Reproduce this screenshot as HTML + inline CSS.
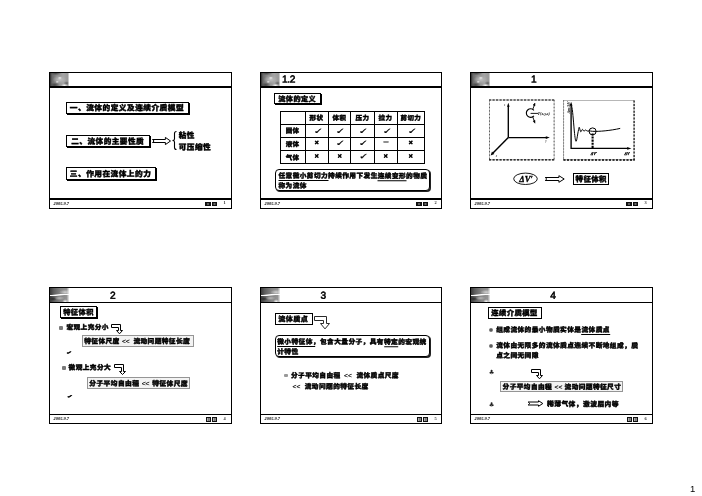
<!DOCTYPE html>
<html lang="zh-CN">
<head>
<meta charset="utf-8">
<title>流体的定义及连续介质模型</title>
<style>
html,body{margin:0;padding:0;background:#fff}
body{width:702px;height:496px;position:relative;overflow:hidden;color:#000;
 font-family:"Liberation Sans","Noto Sans CJK SC",sans-serif;font-weight:900;-webkit-text-stroke:0.42px #000;-webkit-text-size-adjust:none}
.slide{position:absolute;width:183px;height:137px;background:#fff}
.slide>*{position:absolute}
.frame{left:0;top:0;right:0;bottom:0;border:1px solid #000;box-sizing:border-box}
.hl{left:0;right:0;background:#000}
.logo{left:1px;top:1px;width:18.5px;overflow:hidden}
.t{white-space:nowrap;line-height:1;font-size:8px;margin:0;transform-origin:0 0}
.title{transform-origin:0 0;font-weight:normal;font-size:10.2px;-webkit-text-stroke:0.55px #000;line-height:1;white-space:nowrap;margin:0}
.box{box-sizing:border-box;border:1px solid #000;background:#fff;box-shadow:1px 1px 0 #000}
.rbox{box-sizing:border-box;border:1px solid #000;border-radius:4px;background:#fff;box-shadow:1px 1px 0 #222}
.gbox{box-sizing:border-box;border:1px solid #959595;background:#f3f3f3}
.date{font-family:"Liberation Serif",serif;font-style:italic;font-weight:bold;font-size:4.4px;line-height:1;white-space:nowrap;color:#000}
.pn{font-family:"Liberation Serif",serif;font-weight:bold;font-size:4.4px;line-height:1;color:#333}
.btn{background:radial-gradient(ellipse 1.8px 1.1px at 50% 50%,#aaa 0%,#555 60%,#111 100%)}
.b2{background:linear-gradient(90deg,#bbb 0%,#999 45%,#555 55%,#aaa 100%);box-sizing:border-box;border:1px solid #111}
.u{border-bottom:1px solid #000;padding-bottom:1px}
.sq{background:#7a7a7a;border-radius:1px}
.dot{background:radial-gradient(circle at 50% 50%,#4a4a4a 0%,#6a6a6a 45%,#9a9a9a 100%);border-radius:50%}
svg{overflow:visible}
table{border-collapse:collapse}
.pageno{position:absolute;font-weight:normal;font-size:9.5px;line-height:1}
.lt{font-weight:normal;letter-spacing:0}
.club{font-family:"DejaVu Sans",sans-serif;font-size:6.3px;font-weight:normal;color:#222;letter-spacing:0;-webkit-text-stroke:0}
.chk{display:inline-block;font-size:5.5px;letter-spacing:0;font-family:"DejaVu Sans",sans-serif;transform:scale(1.25,.7);-webkit-text-stroke:.6px #000}
.date,.pn,.pageno{-webkit-text-stroke:0}
.lt{-webkit-text-stroke:.15px #000}
main{will-change:transform}

.l1{height:13px;background:linear-gradient(90deg,rgba(255,255,255,0) 92%,rgba(255,255,255,.7) 100%),radial-gradient(ellipse 2.2px 1.2px at 52% 38%,rgba(250,250,250,.95) 0%,rgba(230,230,230,0) 100%),radial-gradient(ellipse 1.8px 1.2px at 38% 68%,rgba(240,240,240,.9) 0%,rgba(230,230,230,0) 100%),radial-gradient(ellipse 7px 4px at 50% 50%,rgba(200,200,200,.9) 0%,rgba(185,185,185,.5) 55%,rgba(160,160,160,0) 100%),radial-gradient(ellipse 3.5px 2px at 76% 98%,rgba(255,255,255,.95) 0%,rgba(220,220,220,0) 100%),radial-gradient(ellipse 3px 2px at 88% 78%,rgba(60,60,60,.6) 0%,rgba(90,90,90,0) 100%),radial-gradient(ellipse 5px 2.5px at 25% 92%,rgba(50,50,50,.75) 0%,rgba(90,90,90,0) 100%),radial-gradient(ellipse 6px 2px at 30% 2%,rgba(50,50,50,.7) 0%,rgba(90,90,90,0) 100%),linear-gradient(90deg,#2c2c2c 0%,#6a6a6a 10%,#909090 40%,#a4a4a4 70%,#969696 100%)}
.l2{height:14px;background:linear-gradient(90deg,rgba(255,255,255,0) 88%,rgba(255,255,255,.8) 100%),linear-gradient(177deg,rgba(0,0,0,0) 44%,#fff 47%,#fff 52%,rgba(0,0,0,0) 55%),radial-gradient(ellipse 3px 2.5px at 80% 98%,rgba(255,255,255,.95) 0%,rgba(220,220,220,0) 100%),radial-gradient(ellipse 5px 2px at 50% 72%,rgba(200,200,200,.8) 0%,rgba(200,200,200,0) 100%),radial-gradient(ellipse 4px 2px at 15% 78%,rgba(30,30,30,.8) 0%,rgba(60,60,60,0) 100%),radial-gradient(ellipse 6px 2.5px at 80% 30%,rgba(215,215,215,.9) 0%,rgba(200,200,200,0) 100%),linear-gradient(90deg,#3a3a3a 0%,#5e5e5e 20%,#858585 55%,#9a9a9a 100%)}
.grid{border:1px solid #000;border-radius:2px;table-layout:fixed;font-size:6.5px;letter-spacing:.4px;line-height:1}
.grid th,.grid td{border:1px solid #000;height:12px;padding:0;text-align:center;vertical-align:middle;font-weight:900;text-indent:.4px}
.grid span{display:inline-block}
.grid tr:first-child th{padding-top:1px;height:11px}
.grid .ck{font-size:8px;font-family:"DejaVu Sans",sans-serif;font-weight:bold;letter-spacing:0;text-indent:0;-webkit-text-stroke:.3px #000}
.grid .x{font-size:6.8px;font-family:"Liberation Sans",sans-serif;letter-spacing:0;text-indent:0;-webkit-text-stroke:.6px #000}
.grid .da{font-size:5px;font-weight:bold;letter-spacing:0;text-indent:0;-webkit-text-stroke:.2px #000}
</style>
</head>
<body>
<main>
<section class="slide" style="left:49px;top:72px;width:183px;height:137px">
<div class="frame"></div>
<div class="logo l1"></div>
<div class="hl" style="top:14px;height:2px"></div>
<div class="hl" style="top:126px;height:2px"></div>

<div class="box" style="left:17px;top:30px;width:122.5px;height:12px"></div>
<p class="t" style="left:20px;top:32px;transform:translate(0.85px,0.45px) rotate(.05deg);font-size:7.68px;letter-spacing:0.49px;">一、流体的定义及连续介质模型</p>
<div class="box" style="left:17px;top:63px;width:83.7px;height:12px"></div>
<p class="t" style="left:22px;top:65px;transform:translate(0.24px,0.90px) rotate(.05deg);font-size:7.61px;letter-spacing:0.49px;">二、流体的主要性质</p>
<svg style="left:101px;top:62px" width="25" height="14" viewBox="101 62 25 14"><path d="M103.50 67.50 H116.40 V65.40 L121.50 69.00 L116.40 72.60 V70.50 H103.50 L105.10 69.00 Z" fill="#fff" stroke="#000" stroke-width="1.0" stroke-linejoin="miter"/></svg>
<svg style="left:123px;top:59px" width="5" height="19" viewBox="0 0 5 19"><path d="M4.5 0.5 Q2.5 0.5 2.5 2.5 V8 Q2.5 9.5 0.5 9.5 Q2.5 9.5 2.5 11 V16.5 Q2.5 18.5 4.5 18.5" fill="none" stroke="#000" stroke-width="1.1"/></svg>
<p class="t" style="left:129px;top:60px;transform:translate(0.74px,0.08px) rotate(.05deg);font-size:7.57px;letter-spacing:0.48px;">粘性</p>
<p class="t" style="left:129px;top:71px;transform:translate(0.74px,0.64px) rotate(.05deg);font-size:7.61px;letter-spacing:0.49px;">可压缩性</p>
<div class="box" style="left:17px;top:95px;width:90px;height:12.5px"></div>
<p class="t" style="left:20px;top:98px;transform:translate(0.84px,0.52px) rotate(.05deg);font-size:7.66px;letter-spacing:0.49px;">三、作用在流体上的力</p>
<span class="date" style="left:4.6px;top:130.2px">2005.9.7</span><span class="btn" style="left:156.3px;top:129.6px;width:5.7px;height:4.3px"></span><span class="btn" style="left:163.1px;top:129.6px;width:4.8px;height:4.3px"></span><span class="pn" style="left:174.6px;top:128.6px">1</span>
</section>

<section class="slide" style="left:260px;top:72px;width:182px;height:137px">
<div class="frame"></div>
<div class="logo l1"></div>
<div class="hl" style="top:14px;height:2px"></div>
<div class="hl" style="top:126px;height:2px"></div>
<h2 class="title" style="left:22px;top:2px;transform:translate(0.00px,0.60px) rotate(.05deg)"><span style="letter-spacing:-.35px">1.2</span></h2>
<div class="box" style="left:14px;top:21px;width:47px;height:10.7px"></div>
<p class="t" style="left:18px;top:24px;transform:translate(0.23px,0.56px) rotate(.05deg);font-size:7.14px;letter-spacing:0.46px;">流体的定义</p>
<table class="grid" style="left:20px;top:39px"><colgroup><col style="width:25px"><col style="width:23px"><col style="width:22px"><col style="width:24px"><col style="width:23px"><col style="width:27px"></colgroup><tr><th></th><th><span style="transform:translate(-0.9px,0.3px) rotate(.05deg)">形状</span></th><th><span style="transform:translate(-0.9px,0.3px) rotate(.05deg)">体积</span></th><th><span style="transform:translate(-0.9px,0.3px) rotate(.05deg)">压力</span></th><th><span style="transform:translate(-0.9px,0.3px) rotate(.05deg)">拉力</span></th><th><span style="transform:translate(-0.9px,0.3px) rotate(.05deg)">剪切力</span></th></tr><tr><th><span style="transform:translate(-0.7px,0.1px) rotate(.05deg)">固体</span></th><td class="ck"><span style="transform:translate(1.1px,0.8px) rotate(.05deg) scale(1.4,1)">✓</span></td><td class="ck"><span style="transform:translate(1.1px,0.8px) rotate(.05deg) scale(1.4,1)">✓</span></td><td class="ck"><span style="transform:translate(1.1px,0.8px) rotate(.05deg) scale(1.4,1)">✓</span></td><td class="ck"><span style="transform:translate(1.1px,0.8px) rotate(.05deg) scale(1.4,1)">✓</span></td><td class="ck"><span style="transform:translate(1.1px,0.8px) rotate(.05deg) scale(1.4,1)">✓</span></td></tr><tr><th><span style="transform:translate(-0.7px,0.5px) rotate(.05deg)">液体</span></th><td class="x"><span style="transform:translate(-0.3px,-1.3px) rotate(.05deg)">×</span></td><td class="ck"><span style="transform:translate(1.2px,-0.2px) rotate(.05deg) scale(1.4,1)">✓</span></td><td class="ck"><span style="transform:translate(1.2px,-0.2px) rotate(.05deg) scale(1.4,1)">✓</span></td><td class="da"><span style="transform:translate(-0.5px,-2.7px) rotate(.05deg)">—</span></td><td class="x"><span style="transform:translate(-0.3px,-1.3px) rotate(.05deg)">×</span></td></tr><tr><th><span style="transform:translate(-0.7px,0.9px) rotate(.05deg)">气体</span></th><td class="x"><span style="transform:translate(-0.3px,-0.7px) rotate(.05deg)">×</span></td><td class="x"><span style="transform:translate(-0.3px,-0.7px) rotate(.05deg)">×</span></td><td class="ck"><span style="transform:translate(1.4px,0.05px) rotate(.05deg) scale(1.4,1)">✓</span></td><td class="x"><span style="transform:translate(-0.3px,-0.7px) rotate(.05deg)">×</span></td><td class="x"><span style="transform:translate(-0.3px,-0.7px) rotate(.05deg)">×</span></td></tr></table>
<div class="rbox" style="left:15px;top:97px;width:155px;height:21.5px"></div>
<p class="t" style="left:18px;top:99px;transform:translate(0.51px,0.04px) rotate(.05deg);font-size:6.67px;letter-spacing:0.43px;line-height:10px;white-space:normal;width:156px"><span class="u">任意微小剪切力</span>持续作用下发生<span class="u">连续变形</span>的物质<br>称为流体</p>
<span class="date" style="left:4.6px;top:130.2px">2005.9.7</span><span class="btn" style="left:156.3px;top:129.6px;width:5.7px;height:4.3px"></span><span class="btn" style="left:163.1px;top:129.6px;width:4.8px;height:4.3px"></span><span class="pn" style="left:174.6px;top:128.6px">2</span>
</section>

<section class="slide" style="left:470px;top:72px;width:183px;height:137px">
<div class="frame"></div>
<div class="logo l1"></div>
<div class="hl" style="top:14px;height:2px"></div>
<div class="hl" style="top:126px;height:2px"></div>
<h2 class="title" style="left:61px;top:2px;transform:translate(0.00px,0.60px) rotate(.05deg)">1</h2>
<svg style="left:18px;top:26px" width="68" height="64" viewBox="488 98 68 64">
<rect x="489.5" y="100" width="64.6" height="59.8" fill="#fff" stroke="#999" stroke-width="0.6"/>
<path d="M489 100 H554.6 M489 159.9 H554.6" fill="none" stroke="#000" stroke-width="1.2" stroke-dasharray="2.2 1.3"/>
<path d="M489.5 100 V160 M554.1 100 V160" fill="none" stroke="#555" stroke-width="0.9" stroke-dasharray="1.4 2"/>
<path d="M508.3 137.6 V106 M508.3 137.6 H546.5" fill="none" stroke="#000" stroke-width="1.35"/>
<path d="M508.3 137.6 L493 153" fill="none" stroke="#000" stroke-width="1.45"/>
<path d="M508.3 102.8 l-1.3 4 h2.6 z M549.8 137.6 l-4 -1.3 v2.6 z M490.6 155.4 l1.4 -3.8 l2.4 2.4 z" fill="#000"/>
<path d="M533.9 110.3 A4.3 4.3 0 1 0 533.9 115.9" fill="none" stroke="#000" stroke-width="1.1"/>
<path d="M530.6 113.4 H538 M532.6 109.8 L534.4 105 M532.6 116.4 L534.4 121.4" fill="none" stroke="#000" stroke-width="0.9"/>
<path d="M535 103 l-1.9 2 l1.9 0.9 z M535 123.2 l-1.9 -2 l1.9 -0.9 z" fill="#000" stroke="#000" stroke-width="0.5"/>
<text x="538" y="114.6" font-family="Liberation Serif,serif" font-style="italic" font-weight="bold" font-size="3.8" fill="#000">P(x,y,z)</text>
<text x="504" y="106" font-family="Liberation Serif,serif" font-style="italic" font-weight="normal" font-size="3.2" fill="#222">z</text>
<text x="545.3" y="142.2" font-family="Liberation Serif,serif" font-style="italic" font-weight="normal" font-size="3.2" fill="#222">y</text>
<text x="495.8" y="156.6" font-family="Liberation Serif,serif" font-style="italic" font-weight="normal" font-size="3.2" fill="#222">x</text>
</svg>
<svg style="left:92px;top:26px" width="74" height="64" viewBox="562 98 74 64">
<rect x="563.6" y="100.5" width="70.4" height="59.3" fill="#fff" stroke="#888" stroke-width="0.6"/>
<path d="M563.6 100.5 V160" fill="none" stroke="#444" stroke-width="0.8" stroke-dasharray="1 2"/>
<path d="M634.1 100.5 V160.4" fill="none" stroke="#111" stroke-width="1.2" stroke-dasharray="2 1.4"/>
<path d="M563.4 160 H634.6" fill="none" stroke="#000" stroke-width="1.4" stroke-dasharray="2.2 1.3"/>
<path d="M571.1 104 V148.4 H628" fill="none" stroke="#000" stroke-width="1.35"/>
<path d="M571.1 101.8 l-1.4 4 h2.8 z M631.4 148.4 l-4.2 -1.4 v2.8 z" fill="#000"/>
<path d="M571.6 106 C572.6 109 573.3 120 574.3 131 C575 138 575.5 141.3 576.1 141.3 C576.9 141.3 577.6 132.5 579.2 127.3 C579.8 128 580.2 131.8 580.8 131.8 C581.4 131.8 581.8 129.4 582.4 129.4 C583 129.4 583.4 131.2 584 131.2 C584.6 131.2 585 130 585.6 130 C586.2 130 586.6 131 587.2 131 C588.2 131 589.4 130.8 592.4 131.3 C599 131.7 610.5 130.6 620.2 128.4" fill="none" stroke="#000" stroke-width="1"/>
<circle cx="592.6" cy="131.4" r="3.5" fill="none" stroke="#000" stroke-width="1"/>
<path d="M592.6 133.4 V148" stroke="#000" stroke-width="2.1" stroke-dasharray="2.1 1" fill="none"/>
<text x="590.8" y="154.6" font-family="Liberation Serif,serif" font-style="italic" font-weight="bold" font-size="4" fill="#000" stroke="#000" stroke-width="0.25">ΔV′</text>
<text x="624.6" y="154.6" font-family="Liberation Serif,serif" font-style="italic" font-weight="bold" font-size="4" fill="#000" stroke="#000" stroke-width="0.25">ΔV</text>
<text x="569.8" y="113.4" font-family="Liberation Serif,serif" font-style="italic" font-weight="bold" font-size="4" fill="#000" transform="rotate(-90 569.8 113.4)">Δm/ΔV</text>
</svg>
<svg style="left:42px;top:99px" width="27" height="15" viewBox="512 171 27 15"><ellipse cx="525.5" cy="178.8" rx="11.8" ry="5.7" fill="#fff" stroke="#000" stroke-width="0.9"/><text x="519.3" y="181.9" font-family="Liberation Serif,serif" font-style="italic" font-weight="bold" font-size="8.6" fill="#000" stroke="#000" stroke-width="0.3">ΔV′</text></svg>
<svg style="left:72px;top:101px" width="26" height="13" viewBox="72 101 26 13"><path d="M75.20 105.50 H88.90 V103.70 L94.20 107.00 L88.90 110.30 V108.50 H75.20 L76.80 107.00 Z" fill="#fff" stroke="#000" stroke-width="1.0" stroke-linejoin="miter"/></svg>
<div class="box" style="left:103px;top:101px;width:36px;height:12px;border-width:1.6px;box-shadow:none"></div>
<p class="t" style="left:105px;top:103px;transform:translate(0.54px,0.62px) rotate(.05deg);font-size:7.38px;letter-spacing:0.47px;">特征体积</p>
<span class="date" style="left:4.6px;top:130.2px">2005.9.7</span><span class="btn" style="left:156.3px;top:129.6px;width:5.7px;height:4.3px"></span><span class="btn" style="left:163.1px;top:129.6px;width:4.8px;height:4.3px"></span><span class="pn" style="left:174.6px;top:128.6px">3</span>
</section>

<section class="slide" style="left:49px;top:287px;width:183px;height:137px">
<div class="frame"></div>
<div class="logo l2"></div>
<div class="hl" style="top:14.7px;height:1px"></div>
<div class="hl" style="top:127px;height:1px"></div>
<h2 class="title" style="left:61px;top:3px;transform:translate(0.00px,0.70px) rotate(.05deg)">2</h2>
<div class="box" style="left:11px;top:19px;width:36.5px;height:12px;border-width:1.5px"></div>
<p class="t" style="left:14px;top:21px;transform:translate(0.23px,0.82px) rotate(.05deg);font-size:7.19px;letter-spacing:0.46px;">特征体积</p>
<span class="sq" style="left:10.2px;top:38.6px;width:4.2px;height:4.2px"></span>
<p class="t" style="left:17px;top:37px;transform:translate(0.51px,0.53px) rotate(.05deg);font-size:6.63px;letter-spacing:0.42px;">宏观上充分小</p>
<svg style="left:60px;top:35px" width="17" height="16" viewBox="60 35 17 16"><path d="M62.5 37.5 H71.5 V43.5 H73.5 L70.5 46.80 L67.5 43.5 H69.5 V40.5 H62.5 Z" fill="#fff" stroke="#000" stroke-width="1.0" stroke-linejoin="miter"/></svg>
<div class="gbox" style="left:33px;top:48.3px;width:112px;height:11.5px"></div>
<p class="t" style="left:35px;top:51px;transform:translate(0.21px,0.53px) rotate(.05deg);font-size:6.67px;letter-spacing:0.43px;">特征体尺度 <span class="lt" style="margin:0 1.44px 0 0.00px">&lt;&lt;</span> 流动问题特征长度</p>
<p class="t" style="left:17px;top:63px;transform:translate(0.75px,0.50px) rotate(.05deg);font-size:4.70px;letter-spacing:0.30px;"><span class="chk">✔</span></p>
<span class="sq" style="left:12.5px;top:78.5px;width:4.2px;height:4.2px"></span>
<p class="t" style="left:19px;top:77px;transform:translate(0.61px,0.64px) rotate(.05deg);font-size:6.67px;letter-spacing:0.43px;">微观上充分大</p>
<svg style="left:63px;top:75px" width="17" height="16" viewBox="63 75 17 16"><path d="M65.5 77.5 H74.5 V84.5 H76.5 L73.5 87.50 L70.5 84.5 H72.5 V80.5 H65.5 Z" fill="#fff" stroke="#000" stroke-width="1.0" stroke-linejoin="miter"/></svg>
<div class="gbox" style="left:38.3px;top:90px;width:102.5px;height:11.5px"></div>
<p class="t" style="left:40px;top:93px;transform:translate(0.31px,0.81px) rotate(.05deg);font-size:6.72px;letter-spacing:0.43px;">分子平均自由程 <span class="lt" style="margin:0 0.42px 0 0.00px">&lt;&lt;</span> 特征体尺度</p>
<p class="t" style="left:18px;top:107px;transform:translate(0.55px,0.20px) rotate(.05deg);font-size:4.70px;letter-spacing:0.30px;"><span class="chk">✔</span></p>
<span class="date" style="left:4.6px;top:130.2px">2005.9.7</span><span class="btn b2" style="left:156.6px;top:130px;width:5.2px;height:4.8px"></span><span class="btn b2" style="left:163px;top:130px;width:5px;height:4.8px"></span><span class="pn" style="left:174.6px;top:129.6px">4</span>
</section>

<section class="slide" style="left:260px;top:287px;width:182px;height:137px">
<div class="frame"></div>
<div class="logo l2"></div>
<div class="hl" style="top:14.7px;height:1px"></div>
<div class="hl" style="top:127px;height:1px"></div>
<h2 class="title" style="left:60px;top:3px;transform:translate(0.50px,0.70px) rotate(.05deg)">3</h2>
<div class="box" style="left:15px;top:26px;width:38px;height:11.5px;box-shadow:none"></div>
<p class="t" style="left:18px;top:28px;transform:translate(0.33px,0.60px) rotate(.05deg);font-size:7.05px;letter-spacing:0.45px;">流体质点</p>
<svg style="left:52px;top:27px" width="21" height="19" viewBox="52 27 21 19"><path d="M54.5 29.5 H66.5 V36.5 H69.5 L65.0 41.90 L60.5 36.5 H63.5 V33.5 H54.5 Z" fill="#fff" stroke="#2a2a2a" stroke-width="1.0" stroke-linejoin="miter"/></svg>
<div class="rbox" style="left:14.7px;top:48px;width:155.5px;height:21.5px"></div>
<p class="t" style="left:17px;top:50px;transform:translate(0.21px,0.04px) rotate(.05deg);font-size:6.70px;letter-spacing:0.43px;line-height:10px;white-space:normal;width:156px"><span class="u" style="padding-right:2.6px;margin-right:-2.6px">微小特征体</span>，包含大量分子，具有<span class="u">特定</span>的宏观统<br>计特性</p>
<span class="sq" style="left:24.4px;top:86.5px;width:4px;height:3.6px;background:#999"></span>
<p class="t" style="left:31px;top:85px;transform:translate(0.01px,0.67px) rotate(.05deg);font-size:6.67px;letter-spacing:0.43px;">分子平均自由程 <span class="lt" style="margin:0 2.22px 0 1.22px">&lt;&lt;</span> 流体质点尺度</p>
<p class="t" style="left:32px;top:96px;transform:translate(0.51px,0.66px) rotate(.05deg);font-size:6.67px;letter-spacing:0.43px;"><span class="lt" style="margin:0 2.22px 0 0.00px">&lt;&lt;</span> 流动问题的特征长度</p>
<span class="date" style="left:4.6px;top:130.2px">2005.9.7</span><span class="btn b2" style="left:156.6px;top:130px;width:5.2px;height:4.8px"></span><span class="btn b2" style="left:163px;top:130px;width:5px;height:4.8px"></span><span class="pn" style="left:174.6px;top:129.6px">5</span>
</section>

<section class="slide" style="left:470px;top:287px;width:183px;height:137px">
<div class="frame"></div>
<div class="logo l2"></div>
<div class="hl" style="top:14.7px;height:1px"></div>
<div class="hl" style="top:127px;height:1px"></div>
<h2 class="title" style="left:80px;top:3px;transform:translate(0.30px,0.70px) rotate(.05deg)">4</h2>
<div class="box" style="left:18px;top:20px;width:53.6px;height:12px;box-shadow:none;border-width:1.2px"></div>
<p class="t" style="left:21px;top:22px;transform:translate(0.23px,0.38px) rotate(.05deg);font-size:7.28px;letter-spacing:0.47px;">连续介质模型</p>
<span class="dot" style="left:19.2px;top:40.8px;width:4.2px;height:4px"></span>
<p class="t" style="left:26px;top:39px;transform:translate(0.21px,0.92px) rotate(.05deg);font-size:6.68px;letter-spacing:0.43px;">组成流体的最小物质实体是<span class="u">流体质点</span></p>
<span class="dot" style="left:19.2px;top:56.6px;width:4.2px;height:4px"></span>
<p class="t" style="left:26px;top:53px;transform:translate(0.21px,0.78px) rotate(.05deg);font-size:6.68px;letter-spacing:0.43px;line-height:10.4px;white-space:normal;width:150px">流体由无限多的流体质点连续不断地组成，质<br>点之间无间隙</p>
<p class="t" style="left:18px;top:82px;transform:translate(0.64px,0.30px) rotate(.05deg);font-size:4.23px;letter-spacing:0.27px;"><span class="club">♣</span></p>
<svg style="left:59px;top:80px" width="17" height="16" viewBox="59 80 17 16"><path d="M61.5 82.5 H70.5 V88.5 H72.5 L69.5 91.80 L66.5 88.5 H68.5 V85.5 H61.5 Z" fill="#fff" stroke="#000" stroke-width="1.0" stroke-linejoin="miter"/></svg>
<div class="gbox" style="left:30.3px;top:94.1px;width:123px;height:10.5px"></div>
<p class="t" style="left:32px;top:97px;transform:translate(0.61px,0.11px) rotate(.05deg);font-size:6.67px;letter-spacing:0.43px;">分子平均自由程 <span class="lt" style="margin:0 0.02px 0 0.02px">&lt;&lt;</span> 流动问题特征尺寸</p>
<p class="t" style="left:18px;top:114px;transform:translate(0.64px,0.80px) rotate(.05deg);font-size:4.23px;letter-spacing:0.27px;"><span class="club">♣</span></p>
<svg style="left:55px;top:111px" width="21" height="12" viewBox="55 111 21 12"><path d="M58.20 115.00 H68.50 V113.70 L72.80 116.50 L68.50 119.30 V118.00 H58.20 L59.80 116.50 Z" fill="#fff" stroke="#000" stroke-width="1.0" stroke-linejoin="miter"/></svg>
<p class="t" style="left:77px;top:114px;transform:translate(0.02px,0.36px) rotate(.05deg);font-size:6.77px;letter-spacing:0.43px;">稀薄气体，激波层内等</p>
<span class="date" style="left:4.6px;top:130.2px">2005.9.7</span><span class="btn b2" style="left:156.6px;top:130px;width:5.2px;height:4.8px"></span><span class="btn b2" style="left:163px;top:130px;width:5px;height:4.8px"></span><span class="pn" style="left:174.6px;top:129.6px">6</span>
</section>

<footer class="pageno" style="left:690px;top:483.6px">1</footer>
</main>
</body>
</html>
